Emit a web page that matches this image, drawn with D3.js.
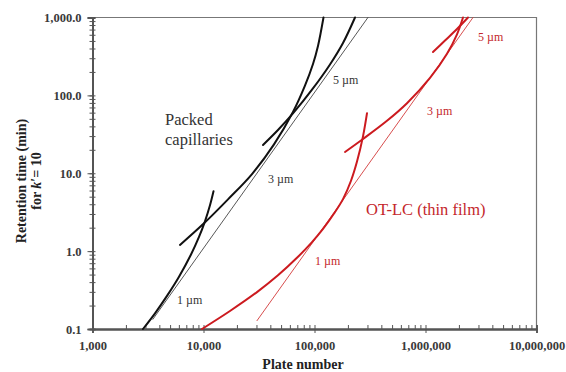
<!DOCTYPE html>
<html>
<head>
<meta charset="utf-8">
<script src="https://cdn.jsdelivr.net/npm/d3@7"></script>
<style>
  html, body { margin: 0; padding: 0; background: #fff; }
  svg { display: block; }
</style>
</head>
<body>
<div id="chart"></div>
<script>
// ---------- data (plate number N, retention time t in min) ----------
const xTickValues = [1e3, 1e4, 1e5, 1e6, 1e7];
const xTickLabels = ["1,000", "10,000", "100,000", "1,000,000", "10,000,000"];
const yTickValues = [0.1, 1, 10, 100, 1000];
const yTickLabels = ["0.1", "1.0", "10.0", "100.0", "1,000.0"];

// Packed capillaries
const packed1umN = [2850, 3657, 4690, 6017, 7717, 9109, 10310, 11440, 12310];
const packed1umT = [0.1, 0.159, 0.266, 0.469, 0.904, 1.521, 2.413, 3.873, 5.856];
const packed3umN = [6140, 10100, 16620, 27350, 43170, 63970, 82060, 96940, 107500, 120500];
const packed3umT = [1.20, 2.275, 4.62, 9.77, 23.5, 61.2, 133.6, 253, 430.7, 1000];
const packed5umN = [34360, 46880, 63970, 94970, 137900, 180600, 231700];
const packed5umT = [23.1, 35.96, 58.6, 118.2, 249.3, 470.7, 1000];
const packedLimitN = [3500, 303000];
const packedLimitT = [0.1334, 1000];

// OT-LC (thin film)
const otlc1umN = [9694, 17320, 30340, 46880, 69500, 94970, 119300, 149900, 180600, 213200, 241500, 273500, 297200];
const otlc1umT = [0.1, 0.1702, 0.2977, 0.489, 0.820, 1.305, 1.928, 3.039, 4.651, 8.01, 14.13, 29.77, 59.1];
const otlc3umN = [188300, 273500, 449800, 681300, 1098000, 1562000, 1922000, 2177000];
const otlc3umT = [18.77, 27.56, 47.2, 79.4, 167.8, 342.0, 608.4, 1000];
const otlc5umN = [1168000, 1499000, 1922000, 2415000];
const otlc5umT = [360.6, 506.6, 711.9, 1000];
const otlcLimitN = [30340, 2679000];
const otlcLimitT = [0.128, 1000];

// ---------- layout ----------
const W = 566, H = 372;
const plot = { left: 92.5, right: 536.5, top: 17.5, bottom: 329 };

const svg = d3.select("#chart").append("svg")
  .attr("width", W).attr("height", H)
  .style("font-family", "'Liberation Serif', 'Times New Roman', serif");

const x = d3.scaleLog().domain([1e3, 1e7]).range([plot.left, plot.right]);
const y = d3.scaleLog().domain([0.1, 1000]).range([plot.bottom, plot.top]);

const axisColor = "#555";

// frame (top and right)
svg.append("path")
  .attr("d", `M${plot.left},${plot.top}H${plot.right}V${plot.bottom}`)
  .attr("fill", "none").attr("stroke", "#777").attr("stroke-width", 1.2);

// minor tick values
function minors(lo, hi) {
  const out = [];
  for (let d = lo; d < hi; d *= 10)
    for (let k = 1; k < 10; k++) out.push(d * k);
  out.push(hi);
  return out;
}
const xMinor = minors(1e3, 1e7);
const yMinor = minors(0.1, 1000);

// x axis: inner ticks (all), outer ticks (majors) + labels
const gxIn = svg.append("g").attr("transform", `translate(0,${plot.bottom})`)
  .call(d3.axisTop(x).tickValues(xMinor).tickSize(4).tickFormat(""));
const gx = svg.append("g").attr("transform", `translate(0,${plot.bottom})`)
  .call(d3.axisBottom(x).tickValues(xTickValues).tickSize(4).tickPadding(6)
    .tickFormat((d, i) => xTickLabels[i]));

// y axis
const gyIn = svg.append("g").attr("transform", `translate(${plot.left},0)`)
  .call(d3.axisRight(y).tickValues(yMinor).tickSize(3).tickFormat(""));
const gyOut = svg.append("g").attr("transform", `translate(${plot.left},0)`)
  .call(d3.axisLeft(y).tickValues(yMinor).tickSize(3).tickFormat(""));
const gy = svg.append("g").attr("transform", `translate(${plot.left},0)`)
  .call(d3.axisLeft(y).tickValues(yTickValues).tickSize(5).tickPadding(6)
    .tickFormat((d, i) => yTickLabels[i]));

[gxIn, gx, gyIn, gyOut, gy].forEach(g => {
  g.selectAll(".domain").attr("stroke", axisColor).attr("stroke-width", 1.8);
  g.selectAll(".tick line").attr("stroke", axisColor).attr("stroke-width", 1);
  g.selectAll("text")
    .attr("fill", "#3a3a3a")
    .style("font-family", "'Liberation Serif', serif")
    .style("font-weight", "bold")
    .style("font-size", "12.5px");
});
gx.selectAll("text").attr("dy", "0.9em");

// axis titles
svg.append("text")
  .attr("x", 303).attr("y", 369)
  .attr("text-anchor", "middle")
  .attr("fill", "#222")
  .style("font-weight", "bold").style("font-size", "14px")
  .text("Plate number");

const yt = svg.append("text")
  .attr("transform", "translate(26,181) rotate(-90)")
  .attr("text-anchor", "middle")
  .attr("fill", "#222")
  .style("font-weight", "bold").style("font-size", "14px");
yt.append("tspan").attr("x", 0).attr("y", 0).text("Retention time (min)");
const l2 = yt.append("tspan").attr("x", 0).attr("y", 15);
l2.append("tspan").text("for ");
l2.append("tspan").style("font-style", "italic").text("k");
l2.append("tspan").text("′= 10");

// ---------- curves ----------
const line = d3.line()
  .x(d => x(d[0])).y(d => y(d[1]))
  .curve(d3.curveCatmullRom.alpha(0.5));
const straight = d3.line().x(d => x(d[0])).y(d => y(d[1]));

const zip = (a, b) => a.map((v, i) => [v, b[i]]);

const black = "#111", red = "#cc1a1f";

function drawLine(N, T, color, width, gen) {
  svg.append("path")
    .datum(zip(N, T))
    .attr("d", gen)
    .attr("fill", "none")
    .attr("stroke", color)
    .attr("stroke-width", width)
    .attr("stroke-linecap", "round");
}

// limits (thin)
drawLine(packedLimitN, packedLimitT, "#444", 0.9, straight);
drawLine(otlcLimitN, otlcLimitT, "#d23a3a", 0.9, straight);

// packed
drawLine(packed1umN, packed1umT, black, 2, line);
drawLine(packed3umN, packed3umT, black, 2, line);
drawLine(packed5umN, packed5umT, black, 2, line);
// OT-LC
drawLine(otlc1umN, otlc1umT, red, 2, line);
drawLine(otlc3umN, otlc3umT, red, 2, line);
drawLine(otlc5umN, otlc5umT, red, 2, line);

// ---------- labels ----------
function label(txt, px, py, color, size) {
  svg.append("text").attr("x", px).attr("y", py)
    .attr("fill", color).style("font-size", size + "px").text(txt);
}
const dark = "#333", redText = "#c4262b";
label("Packed", 165, 125, dark, 16.5);
label("capillaries", 165, 145, dark, 16.5);
label("1 µm", 177, 304, dark, 12);
label("3 µm", 268, 183, dark, 12);
label("5 µm", 333, 84, dark, 12);
label("OT-LC (thin film)", 366, 215, redText, 16.5);
label("1 µm", 315, 265, redText, 12);
label("3 µm", 427, 115, redText, 12);
label("5 µm", 478, 41, redText, 12);
</script>
</body>
</html>
